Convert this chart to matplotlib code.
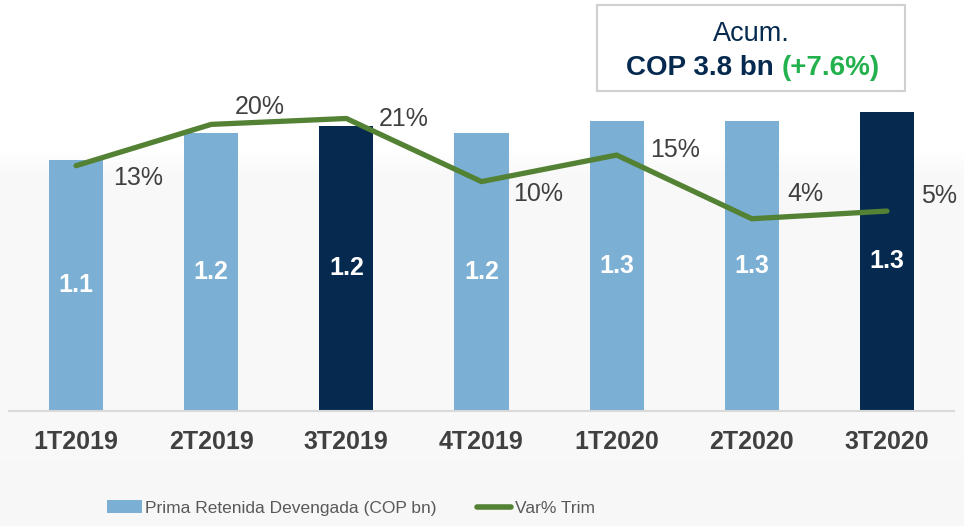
import numpy as np
import matplotlib.pyplot as plt
from matplotlib.patches import Rectangle
from matplotlib.lines import Line2D
from matplotlib.patches import Patch

plt.rcParams['font.family'] = ['Liberation Sans', 'DejaVu Sans']

# Datos
trimestres = ['1T2019', '2T2019', '3T2019', '4T2019', '1T2020', '2T2020', '3T2020']
prima = [1.10, 1.22, 1.25, 1.22, 1.27, 1.27, 1.31]
prima_labels = ['1.1', '1.2', '1.2', '1.2', '1.3', '1.3', '1.3']
var_trim = [13.0, 20.0, 21.0, 10.3, 14.8, 4.0, 5.3]
var_labels = ['13%', '20%', '21%', '10%', '15%', '4%', '5%']
destacados = [False, False, True, False, False, False, True]

azul_claro = '#7bafd4'
azul_oscuro = '#062a4f'
verde = '#548235'
gris = '#404040'

fig = plt.figure(figsize=(9.64, 5.26), dpi=100)

# fondo con degradado suave
bg = fig.add_axes([0, 0, 1, 1], zorder=-10)
rows = np.linspace(0, 526, 526)
vals = 1.0 - 0.025 * np.clip((rows - 150) / 25, 0, 1) - 0.003 * np.clip((rows - 175) / 350, 0, 1)
bg.imshow(vals[:, None, None] * np.ones((1, 1, 3)), aspect='auto',
          extent=[0, 1, 0, 1], vmin=0, vmax=1)
bg.axis('off')

ax = fig.add_axes([8.5 / 964, 115 / 526, 946 / 964, 391 / 526])
ax.patch.set_alpha(0)
x = np.arange(len(trimestres))
colores = [azul_oscuro if d else azul_claro for d in destacados]
bars = ax.bar(x, prima, width=0.4, color=colores, zorder=2)
ax.set_xlim(-0.5, len(trimestres) - 0.5)
ax.set_ylim(0, 1.713)

for b, lab in zip(bars, prima_labels):
    ax.text(b.get_x() + b.get_width() / 2, b.get_height() / 2, lab,
            ha='center', va='center', color='white', fontsize=18,
            fontweight='bold', zorder=3)

for s in ['top', 'right', 'left']:
    ax.spines[s].set_visible(False)
ax.spines['bottom'].set_color('#d9d9d9')
ax.spines['bottom'].set_linewidth(1.5)
ax.set_yticks([])
ax.set_xticks(x)
ax.set_xticklabels(trimestres, fontsize=18, fontweight='bold', color=gris)
ax.tick_params(axis='x', length=0, pad=14)

ax2 = ax.twinx()
ax2.set_ylim(-28.6, 37.7)
ax2.plot(x, var_trim, color=verde, linewidth=3.8, solid_capstyle='round',
         zorder=4)
ax2.axis('off')

offsets = [(62, -12), (49, 17), (57, -1), (57, -12), (58, 5), (54, 25), (52, 15)]
for xi, v, lab, off in zip(x, var_trim, var_labels, offsets):
    ax2.annotate(lab, (xi, v), xytext=off, textcoords='offset pixels',
                 ha='center', va='center', fontsize=18, color=gris)

# caja acumulado
fig.patches.append(Rectangle((597 / 964, 1 - 91 / 526), 308 / 964, 86 / 526,
                             transform=fig.transFigure, facecolor='white',
                             edgecolor='#d0d0d0', linewidth=1.5))
fig.text(751 / 964, 1 - 34 / 526, 'Acum.', ha='center', va='center',
         fontsize=19.5, color=azul_oscuro)
fig.text(774 / 964, 1 - 68 / 526, 'COP 3.8 bn', ha='right', va='center',
         fontsize=20, fontweight='bold', color=azul_oscuro)
fig.text(782 / 964, 1 - 68 / 526, '(+7.6%)', ha='left', va='center',
         fontsize=20, fontweight='bold', color='#22b14c')

handles = [Patch(facecolor=azul_claro, edgecolor='none'),
           Line2D([0], [0], color=verde, linewidth=4, solid_capstyle='round')]
fig.legend(handles, ['Prima Retenida Devengada (COP bn)', 'Var% Trim'],
           loc='center', bbox_to_anchor=(351 / 964, 18 / 526), ncol=2,
           frameon=False, labelcolor='#595959', fontsize=12.5,
           handlelength=2.0, handleheight=0.8, handletextpad=0.2,
           columnspacing=2.3)

fig.savefig('out.png', dpi=100)
